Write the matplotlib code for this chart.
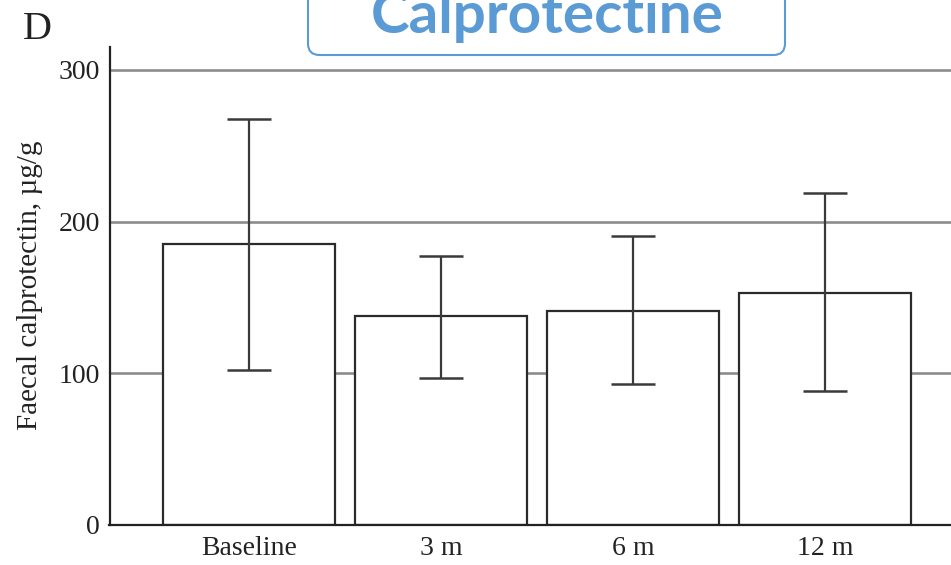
import numpy as np
import matplotlib
matplotlib.use("Agg")
import matplotlib.pyplot as plt
from matplotlib.patches import FancyBboxPatch

# values (faecal calprotectin, ug/g)
groups = ["Baseline", "3 m", "6 m", "12 m"]
means = np.array([185.3, 137.8, 141.1, 153.2])
upper = np.array([267.7, 177.3, 190.5, 218.9])
lower = np.array([102.2, 97.0, 93.0, 88.4])
yticks = [0, 100, 200, 300]

W, H = 951, 565
fig = plt.figure(figsize=(W / 100, H / 100), dpi=100)
serif = ["Liberation Serif", "DejaVu Serif"]

ax = fig.add_axes([109.5 / W, 1 - 525 / H, 1 - 109.5 / W, (525 - 47) / H])
x = np.arange(len(groups))

ax.bar(x, means, width=0.9, color="white", edgecolor="#2b2b2b", linewidth=1.6, zorder=2)
ax.errorbar(x, means, yerr=[means - lower, upper - means], fmt="none",
            ecolor="#3a3a3a", elinewidth=1.6, capsize=15.5, capthick=1.8, zorder=3)

ax.set_xlim(-0.727, 3.656)
ax.set_ylim(0, 315)
ax.set_yticks(yticks)
ax.set_xticks(x)
ax.set_xticklabels(groups)
ax.yaxis.grid(True, color="#8c8c8c", linewidth=1.9)
ax.set_axisbelow(True)

for s in ["top", "right"]:
    ax.spines[s].set_visible(False)
for s in ["left", "bottom"]:
    ax.spines[s].set_color("#222222")
    ax.spines[s].set_linewidth(1.6)

ax.tick_params(axis="both", length=0)
ax.tick_params(axis="y", pad=7)
ax.tick_params(axis="x", pad=8)
for lab in ax.get_xticklabels() + ax.get_yticklabels():
    lab.set_family(serif)
    lab.set_fontsize(20)
    lab.set_color("#222222")

fig.text(30 / W, 1 - 285 / H, "Faecal calprotectin, µg/g", rotation=90,
         ha="center", va="center", family=serif, fontsize=21, color="#222222")
fig.text(23 / W, 1 - 39 / H, "D", ha="left", va="baseline", family=serif,
         fontsize=29, color="#222222")

# title box at the top (cut off by the top edge, as in the original)
box = FancyBboxPatch((308 / W, 1 - 55 / H), 477 / W, 0.2,
                     boxstyle="round,pad=0,rounding_size=0.012",
                     mutation_aspect=W / H, transform=fig.transFigure,
                     facecolor="white", edgecolor="#5B9BD5", linewidth=1.5)
fig.add_artist(box)
fig.text(547 / W, 1 - 33 / H, "Calprotectine", ha="center", va="baseline",
         family=["Lato", "DejaVu Sans"], fontweight="bold", fontsize=42, color="#5B9BD5")

fig.savefig("out.png", dpi=100)
